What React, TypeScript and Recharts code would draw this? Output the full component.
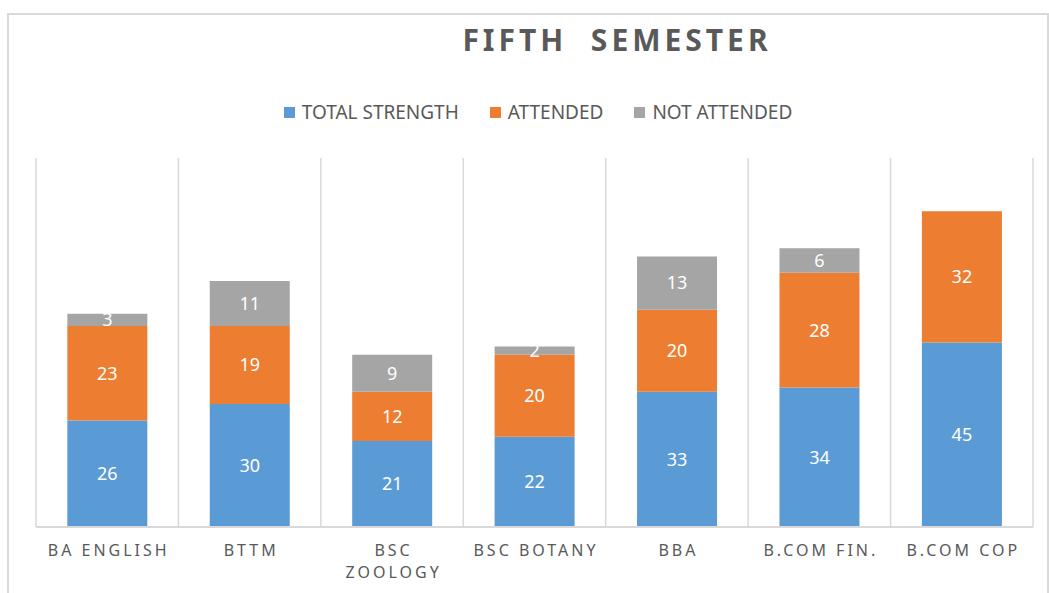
import { Bar, BarChart, CartesianGrid, LabelList, XAxis, YAxis } from 'recharts'

const categories = ['BA ENGLISH', 'BTTM', 'BSC ZOOLOGY', 'BSC BOTANY', 'BBA', 'B.COM FIN.', 'B.COM COP']
const totalStrength = [26, 30, 21, 22, 33, 34, 45]
const attended = [23, 19, 12, 20, 20, 28, 32]
const notAttended = [3, 11, 9, 2, 13, 6, 0]

const seriesNames = ['TOTAL STRENGTH', 'ATTENDED', 'NOT ATTENDED']
const seriesColors = ['#5B9BD5', '#ED7D31', '#A5A5A5']

const data = categories.map((name, i) => ({
  name,
  total: totalStrength[i],
  attended: attended[i],
  notAttended: notAttended[i],
}))

const FONT = '"Noto Sans", "Open Sans", sans-serif'
const TEXT = '#595959'

const CategoryTick = ({ x, y, payload }: any) => {
  const value: string = payload.value
  const lines = value.length > 10 ? value.split(' ') : [value]
  return (
    <text x={x + 1.5} y={y} textAnchor="middle" fill={TEXT} fontSize={16} letterSpacing={3} fontFamily={FONT}>
      {lines.map((l, i) => (
        <tspan key={i} x={x + 1.5} dy={i === 0 ? 21 : 22}>{l}</tspan>
      ))}
    </text>
  )
}

const hideZero = (v: any) => (v ? v : '')

const gridColumns = ({ offset }: any) =>
  categories.map((_, i) => offset.left + (i * offset.width) / categories.length).concat(offset.left + offset.width)

export default function App() {
  return (
    <div
      style={{
        position: 'absolute',
        left: 7,
        top: 13,
        width: 1042,
        height: 580,
        boxSizing: 'border-box',
        borderTop: '2px solid #d9d9d9',
        borderLeft: '2px solid #d9d9d9',
        borderRight: '2px solid #d9d9d9',
        background: '#fff',
      }}
    >
      <div
        style={{
          position: 'absolute',
          left: 308,
          width: 600,
          top: 5,
          textAlign: 'center',
          fontFamily: FONT,
          fontWeight: 'bold',
          fontSize: 30,
          letterSpacing: 4,
          whiteSpace: 'pre',
          color: TEXT,
          lineHeight: '40px',
        }}
      >
        {'FIFTH  SEMESTER'}
      </div>
      <div
        style={{
          position: 'absolute',
          left: 0,
          width: 1058,
          top: 85,
          display: 'flex',
          justifyContent: 'center',
          gap: 31,
          fontFamily: FONT,
          fontSize: 19,
          color: TEXT,
          lineHeight: '24px',
        }}
      >
        {seriesNames.map((s, i) => (
          <span key={s} style={{ display: 'flex', alignItems: 'center' }}>
            <span style={{ width: 11, height: 11, background: seriesColors[i], marginRight: 7 }} />
            {s}
          </span>
        ))}
      </div>
      <div style={{ position: 'absolute', left: 0, top: 0 }}>
        <BarChart
          width={1038}
          height={578}
          data={data}
          margin={{ top: 143, left: 27, right: 14, bottom: 36 }}
          barCategoryGap="22%"
        >
          <CartesianGrid horizontal={false} stroke="#d9d9d9" strokeWidth={1.5} verticalCoordinatesGenerator={gridColumns} />
          <XAxis
            dataKey="name"
            tickLine={false}
            axisLine={{ stroke: '#d9d9d9', strokeWidth: 2 }}
            tick={<CategoryTick />}
            interval={0}
            height={30}
          />
          <YAxis hide domain={[0, 90]} />
          <Bar dataKey="total" stackId="a" fill={seriesColors[0]} isAnimationActive={false}>
            <LabelList dataKey="total" position="center" fill="#fff" fontSize={18} fontFamily={FONT} />
          </Bar>
          <Bar dataKey="attended" stackId="a" fill={seriesColors[1]} isAnimationActive={false}>
            <LabelList dataKey="attended" position="center" fill="#fff" fontSize={18} fontFamily={FONT} />
          </Bar>
          <Bar dataKey="notAttended" stackId="a" fill={seriesColors[2]} isAnimationActive={false}>
            <LabelList dataKey="notAttended" position="center" fill="#fff" fontSize={18} fontFamily={FONT} formatter={hideZero} />
          </Bar>
        </BarChart>
      </div>
    </div>
  )
}
